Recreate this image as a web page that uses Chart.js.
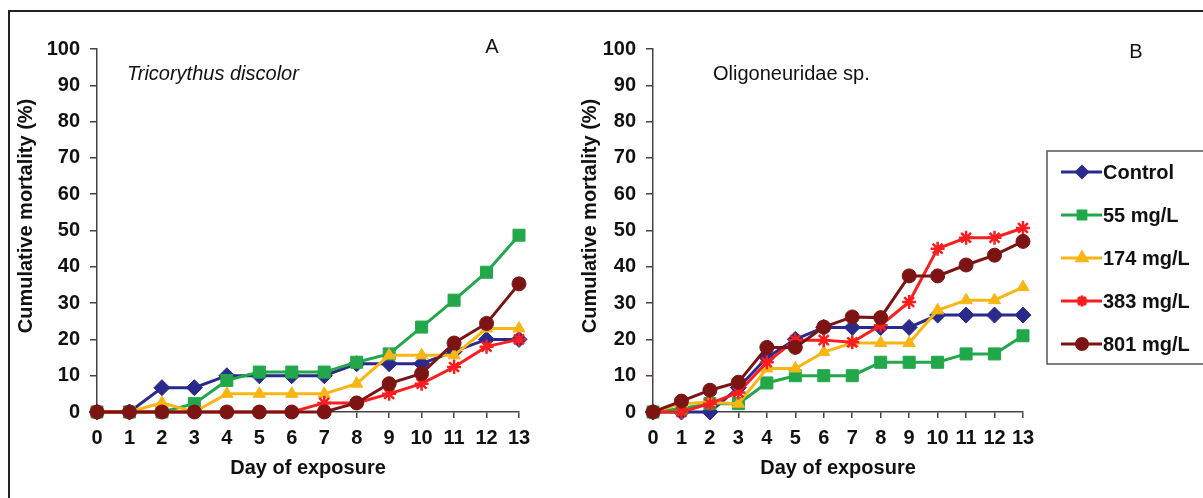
<!DOCTYPE html>
<html>
<head>
<meta charset="utf-8">
<script src="https://cdn.jsdelivr.net/npm/chart.js@4.4.1/dist/chart.umd.min.js"></script>
<style>
  html, body { margin: 0; padding: 0; background: #fff; }
  body { width: 1203px; height: 498px; position: relative; overflow: hidden; font-family: "Liberation Sans", Arial, sans-serif; }
  #frame { position: absolute; left: 8px; top: 10px; width: 1220px; height: 520px; border-top: 2px solid #222; border-left: 2px solid #222; }
  #chartA { position: absolute; left: 0; top: 0; }
  #chartB { position: absolute; left: 560px; top: 0; }
</style>
</head>
<body>
<div id="frame"></div>
<canvas id="chartA" width="560" height="498"></canvas>
<canvas id="chartB" width="643" height="498"></canvas>
<script>
// days of exposure (x categories)
var days = ["0", "1", "2", "3", "4", "5", "6", "7", "8", "9", "10", "11", "12", "13"];
var seriesNames = ["Control", "55 mg/L", "174 mg/L", "383 mg/L", "801 mg/L"];
var seriesColors = ["#2a2a8c", "#22a84a", "#f8b614", "#fa1e1e", "#7c1414"];
var seriesMarkers = ["rectRot", "rect", "triangle", "star", "circle"];
var markerSizes = [8, 8.5, 7, 7, 7];

// A - Tricorythus discolor, cumulative mortality (%)
var tricControl = [0, 0, 6.7, 6.7, 10, 10, 10, 10, 13.3, 13.3, 13.3, 16.7, 20, 20];
var tric55 = [0, 0, 0, 2.3, 8.7, 11, 11, 11, 13.7, 16, 23.4, 30.8, 38.5, 48.7];
var tric174 = [0, 0, 2.5, 0, 5, 5, 5, 5, 7.8, 15.6, 15.6, 15.6, 23, 23];
var tric383 = [0, 0, 0, 0, 0, 0, 0, 2.5, 2.5, 5, 7.8, 12.4, 18, 20];
var tric801 = [0, 0, 0, 0, 0, 0, 0, 0, 2.5, 7.8, 10.6, 19, 24.4, 35.3];

// B - Oligoneuridae sp., cumulative mortality (%)
var oligControl = [0, 0, 0, 6.7, 15, 20, 23.3, 23.3, 23.3, 23.3, 26.7, 26.7, 26.7, 26.7];
var olig55 = [0, 1, 2.3, 2.3, 8, 10, 10, 10, 13.7, 13.7, 13.7, 16, 16, 21];
var olig174 = [0, 2.3, 2.7, 2.3, 12, 12, 16.5, 19, 19, 19, 28, 30.8, 30.8, 34.4];
var olig383 = [0, 0, 2.3, 5.4, 13.7, 19.8, 19.8, 19.2, 23.9, 30.3, 45, 48, 48, 50.7];
var olig801 = [0, 3, 6, 8.2, 17.8, 17.8, 23.4, 26.2, 26, 37.5, 37.5, 40.5, 43.2, 47];

var yTicks = [0, 100, 10];
var axisColor = "#4a4242";
var fontFamily = "'Liberation Sans', Arial, sans-serif";

function makeDatasets(values) {
  return values.map(function (v, i) {
    return {
      label: seriesNames[i],
      data: v,
      borderColor: seriesColors[i],
      backgroundColor: seriesColors[i],
      pointStyle: seriesMarkers[i],
      pointRadius: markerSizes[i],
      pointBorderWidth: seriesMarkers[i] === "star" ? 2.5 : 1,
      borderWidth: 3,
      tension: 0,
      clip: false,
      order: values.length - 1 - i
    };
  });
}

// species name, panel letter, y title and (optionally) the legend box
var panelText = {
  id: "panelText",
  afterDraw: function (chart) {
    var o = chart.options.plugins.panelText;
    var ctx = chart.ctx;
    ctx.save();
    ctx.fillStyle = "#111";
    ctx.textBaseline = "middle";
    ctx.font = (o.italic ? "italic " : "") + "20px " + fontFamily;
    ctx.textAlign = "left";
    ctx.fillText(o.species, o.speciesX, o.speciesY);
    ctx.textAlign = "center";
    ctx.font = "20px " + fontFamily;
    ctx.fillText(o.letter, o.letterX, o.letterY);

    ctx.save();
    ctx.translate(o.titleX, o.titleY);
    ctx.rotate(-Math.PI / 2);
    ctx.font = "bold 20px " + fontFamily;
    ctx.fillText("Cumulative mortality (%)", 0, 0);
    ctx.restore();

    if (o.legend) {
      var L = o.legend;
      ctx.strokeStyle = "#555";
      ctx.lineWidth = 1.5;
      ctx.strokeRect(L.x, L.y, L.w, L.h);
      chart.data.datasets.forEach(function (ds, i) {
        var y = L.firstY + i * L.gap;
        ctx.strokeStyle = ds.borderColor;
        ctx.fillStyle = ds.borderColor;
        ctx.lineWidth = 3;
        ctx.beginPath();
        ctx.moveTo(L.x + 14, y);
        ctx.lineTo(L.x + 55, y);
        ctx.stroke();
        Chart.helpers.drawPoint(ctx, {
          pointStyle: ds.pointStyle,
          radius: 5.5,
          rotation: 0,
          borderWidth: ds.pointStyle === "star" ? 2 : 1
        }, L.x + 35, y);
        ctx.fillStyle = "#111";
        ctx.font = "bold 20px " + fontFamily;
        ctx.textAlign = "left";
        ctx.fillText(ds.label, L.x + 56, y + 1);
      });
    }
    ctx.restore();
  }
};

function makeChart(id, values, axisWidth, padRight, textOpts) {
  var ctx = document.getElementById(id).getContext("2d");
  return new Chart(ctx, {
    type: "line",
    data: { labels: days, datasets: makeDatasets(values) },
    options: {
      responsive: false,
      animation: false,
      devicePixelRatio: 1,
      layout: { padding: { left: 0, top: 49, right: padRight, bottom: 0 } },
      plugins: {
        legend: { display: false },
        tooltip: { enabled: false },
        panelText: textOpts
      },
      scales: {
        x: {
          type: "category",
          offset: false,
          grid: { drawOnChartArea: false, drawTicks: true, tickLength: 6, color: axisColor, lineWidth: 1.5 },
          border: { color: axisColor, width: 1.5 },
          ticks: { color: "#111", maxRotation: 0, autoSkip: false, padding: 8, font: { family: fontFamily, size: 20, weight: "bold" } },
          title: { display: true, text: "Day of exposure", color: "#111", padding: { top: 4, bottom: 18 }, font: { family: fontFamily, size: 20, weight: "bold" } },
          afterFit: function (scale) { scale.height = 86; }
        },
        y: {
          min: yTicks[0],
          max: yTicks[1],
          grid: { drawOnChartArea: false, drawTicks: true, tickLength: 7, color: axisColor, lineWidth: 1.5 },
          border: { color: axisColor, width: 1.5 },
          ticks: { stepSize: yTicks[2], color: "#111", padding: 10, font: { family: fontFamily, size: 20, weight: "bold" } },
          afterFit: function (scale) { scale.width = axisWidth; }
        }
      }
    },
    plugins: [panelText]
  });
}

makeChart("chartA", [tricControl, tric55, tric174, tric383, tric801], 97, 41, {
  species: "Tricorythus discolor", italic: true, speciesX: 127, speciesY: 74,
  letter: "A", letterX: 492, letterY: 47,
  titleX: 26, titleY: 216
});

makeChart("chartB", [oligControl, olig55, olig174, olig383, olig801], 93, 180, {
  species: "Oligoneuridae sp.", italic: false, speciesX: 153, speciesY: 74,
  letter: "B", letterX: 576, letterY: 52,
  titleX: 30, titleY: 216,
  legend: { x: 487, y: 151, w: 170, h: 213, firstY: 172, gap: 43 }
});
</script>
</body>
</html>
